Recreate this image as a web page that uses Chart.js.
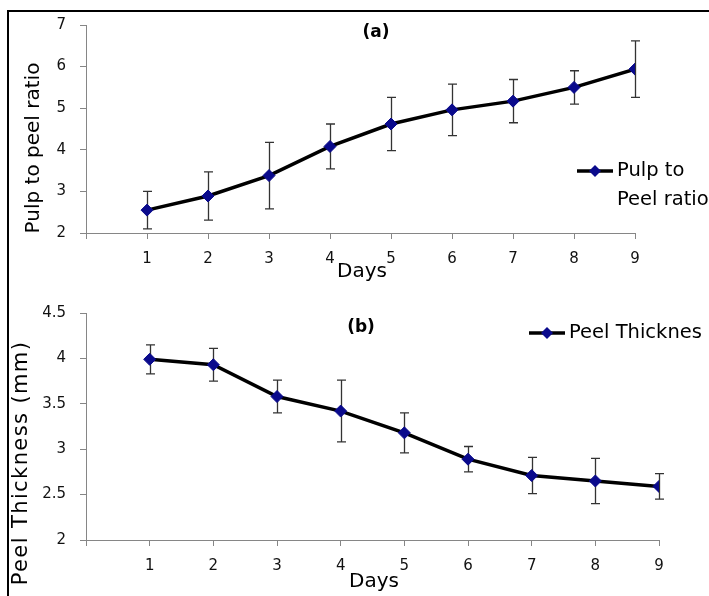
<!DOCTYPE html>
<html>
<head>
<meta charset="utf-8">
<script src="https://cdn.jsdelivr.net/npm/chart.js@4.4.1/dist/chart.umd.min.js"></script>
<style>
  html, body { margin:0; padding:0; background:#fff; overflow:hidden; }
  #fig { position:relative; width:709px; height:596px; overflow:hidden; }
  #wrap-a { position:absolute; left:0; top:0; width:709px; height:290px; }
  #wrap-b { position:absolute; left:0; top:290px; width:709px; height:306px; }
  canvas { display:block; }
</style>
</head>
<body>
<div id="fig">
  <div id="wrap-a"><canvas id="chart-a"></canvas></div>
  <div id="wrap-b"><canvas id="chart-b"></canvas></div>
</div>
<script>
// ── data ─────────────────────────────────────────────
const days = [1, 2, 3, 4, 5, 6, 7, 8, 9];
const pulpRatio = [2.55, 2.89, 3.38, 4.08, 4.62, 4.96, 5.17, 5.50, 5.94];
const pulpErr   = [0.45, 0.58, 0.80, 0.54, 0.64, 0.62, 0.52, 0.40, 0.68];
const peelThickness = [3.99, 3.93, 3.58, 3.42, 3.18, 2.89, 2.71, 2.65, 2.59];
const peelErr       = [0.16, 0.18, 0.18, 0.34, 0.22, 0.14, 0.20, 0.25, 0.14];
const xTicks  = [0, 1, 2, 3, 4, 5, 6, 7, 8, 9];
const yTicksA = [2, 3, 4, 5, 6, 7];
const yTicksB = [2, 2.5, 3, 3.5, 4, 4.5];

Chart.defaults.font.family = 'DejaVu Sans';
Chart.defaults.font.size = 15;
Chart.defaults.color = '#111';

const AXIS = '#868686';
const MARKER = '#0a0a8c';

// figure frame (left + top edge of the pasted figure)
const frame = {
  id: 'frame',
  beforeDraw(chart, args, opts) {
    const { ctx, width, height } = chart;
    ctx.save();
    ctx.fillStyle = '#000';
    ctx.fillRect(7, opts.top, 2, height - opts.top);
    if (opts.top > 0) ctx.fillRect(7, opts.top, width - 7, 2);
    ctx.restore();
  }
};

// error bars under the line
const errorBars = {
  id: 'errorBars',
  beforeDatasetsDraw(chart, args, opts) {
    const { ctx, scales: { x, y } } = chart;
    const pts = chart.data.datasets[0].data;
    ctx.save();
    ctx.strokeStyle = '#333';
    ctx.lineWidth = 1.3;
    pts.forEach((p, i) => {
      const px = Math.round(x.getPixelForValue(p.x)) + 0.5;
      const top = y.getPixelForValue(p.y + opts.errors[i]);
      const bot = y.getPixelForValue(p.y - opts.errors[i]);
      ctx.beginPath();
      ctx.moveTo(px, top); ctx.lineTo(px, bot);
      ctx.moveTo(px - 4.5, top); ctx.lineTo(px + 4.5, top);
      ctx.moveTo(px - 4.5, bot); ctx.lineTo(px + 4.5, bot);
      ctx.stroke();
    });
    ctx.restore();
  }
};

// free text: axis titles, panel tags, legend
const annotate = {
  id: 'annotate',
  afterDraw(chart, args, opts) {
    const ctx = chart.ctx;
    ctx.save();
    ctx.fillStyle = '#000';
    (opts.texts || []).forEach(t => {
      ctx.save();
      ctx.font = t.font;
      ctx.letterSpacing = t.spacing || '0px';
      ctx.textAlign = 'center';
      ctx.textBaseline = 'middle';
      ctx.translate(t.x, t.y);
      if (t.rotate) ctx.rotate(-Math.PI / 2);
      ctx.fillText(t.text, 0, 0);
      ctx.restore();
    });
    const lg = opts.legend;
    if (lg) {
      const cx = (lg.x1 + lg.x2) / 2, r = 6;
      ctx.strokeStyle = '#000';
      ctx.lineWidth = 3.5;
      ctx.beginPath(); ctx.moveTo(lg.x1, lg.y); ctx.lineTo(lg.x2, lg.y); ctx.stroke();
      ctx.fillStyle = MARKER;
      ctx.beginPath();
      ctx.moveTo(cx, lg.y - r); ctx.lineTo(cx + r, lg.y); ctx.lineTo(cx, lg.y + r); ctx.lineTo(cx - r, lg.y);
      ctx.closePath();
      ctx.fill();
      ctx.fillStyle = '#000';
      ctx.font = '19.5px "DejaVu Sans"';
      ctx.textAlign = 'left';
      ctx.textBaseline = 'middle';
      lg.lines.forEach((s, i) => ctx.fillText(s, lg.x2 + 4, lg.y + i * 29));
    }
    ctx.restore();
  }
};

function makeChart(id, values, errors, yTicks, pad, frameTop, texts, legend) {
  return new Chart(document.getElementById(id), {
    type: 'line',
    data: {
      datasets: [{
        data: days.map((d, i) => ({ x: d, y: values[i] })),
        borderColor: '#000',
        borderWidth: 3.5,
        tension: 0,
        pointStyle: 'rectRot',
        pointRadius: 6,
        pointBackgroundColor: MARKER,
        pointBorderColor: MARKER,
        pointBorderWidth: 1,
      }]
    },
    options: {
      responsive: true,
      maintainAspectRatio: false,
      animation: false,
      layout: { padding: pad },
      plugins: {
        legend: { display: false },
        tooltip: { enabled: false },
        frame: { top: frameTop },
        errorBars: { errors },
        annotate: { texts, legend },
      },
      scales: {
        x: {
          type: 'linear', min: 0, max: 9,
          afterBuildTicks: s => { s.ticks = xTicks.map(v => ({ value: v })); },
          afterFit: s => { s.height = 30; },
          ticks: { padding: 11, maxRotation: 0, callback: v => (v === 0 ? '' : String(v)) },
          grid: { drawOnChartArea: false, drawTicks: true, tickLength: 6, color: AXIS },
          border: { color: AXIS },
        },
        y: {
          min: yTicks[0], max: yTicks[yTicks.length - 1],
          afterBuildTicks: s => { s.ticks = yTicks.map(v => ({ value: v })); },
          afterFit: s => { s.width = 86; },
          ticks: { padding: 14, callback: v => String(v) },
          grid: { drawOnChartArea: false, drawTicks: true, tickLength: 6, color: AXIS },
          border: { color: AXIS },
        }
      }
    },
    plugins: [frame, errorBars, annotate]
  });
}

makeChart('chart-a', pulpRatio, pulpErr, yTicksA,
  { left: 0, right: 74, top: 25, bottom: 27 }, 10,
  [
    { text: '(a)', x: 376, y: 33, font: 'bold 17px "DejaVu Sans"' },
    { text: 'Pulp to peel ratio', x: 34, y: 148, font: '20px "DejaVu Sans"', rotate: true },
    { text: 'Days', x: 362, y: 272, font: '20px "DejaVu Sans"' },
  ],
  { x1: 577, x2: 613, y: 171, lines: ['Pulp to', 'Peel ratio'] }
);

makeChart('chart-b', peelThickness, peelErr, yTicksB,
  { left: 0, right: 50, top: 21, bottom: 26 }, 0,
  [
    { text: '(b)', x: 361, y: 38, font: 'bold 17px "DejaVu Sans"' },
    { text: 'Peel Thickness (mm)', x: 22, y: 173, font: '21px "DejaVu Sans"', rotate: true, spacing: '1.4px' },
    { text: 'Days', x: 374, y: 292, font: '20px "DejaVu Sans"' },
  ],
  { x1: 529, x2: 565, y: 43, lines: ['Peel Thicknes'] }
);
</script>
</body>
</html>
